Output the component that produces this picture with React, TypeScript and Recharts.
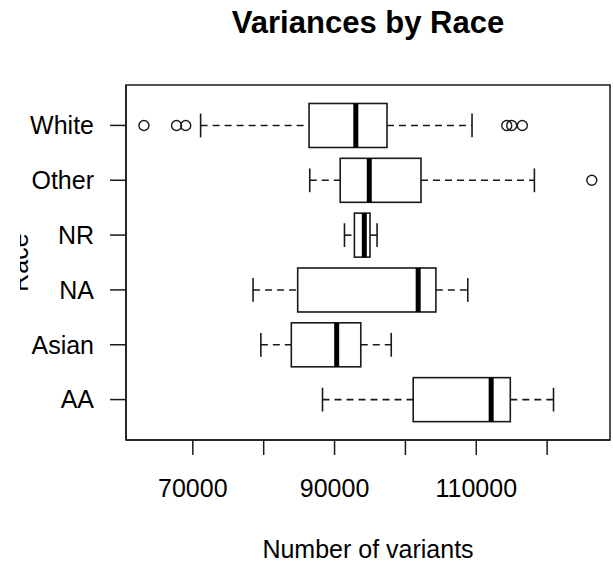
import * as R from 'recharts';
import { BarChart, Bar, XAxis, YAxis } from 'recharts';

// one row per race, top to bottom as in the picture
const races = ['White', 'Other', 'NR', 'NA', 'Asian', 'AA'];
const lowWhisker = [71100, 86500, 91400, 78500, 79600, 88300];
const lowerQuartile = [86400, 90800, 92800, 84800, 83900, 101100];
const medians = [93000, 94900, 94200, 101800, 90300, 112100];
const upperQuartile = [97400, 102200, 95000, 104300, 93700, 114800];
const highWhisker = [109400, 118200, 96000, 108800, 98000, 120900];
const outliers = [
  [63100, 67700, 69000, 114300, 115000, 116500],
  [126300],
  [],
  [],
  [],
  [],
];

const xDomain = [60570, 128870];
const xTicks = [70000, 80000, 90000, 100000, 110000, 120000];
const xTickLabels = ['70000', '', '90000', '', '110000', ''];

const data = races.map((race, i) => ({
  race,
  lo: lowWhisker[i],
  q1: lowerQuartile[i],
  med: medians[i],
  q3: upperQuartile[i],
  hi: highWhisker[i],
  out: outliers[i],
  range: [lowWhisker[i], highWhisker[i]],
}));

const INK = '#1a1a1a';
const FONT = '"Liberation Sans", Arial, sans-serif';

// bar gets the whisker span from the x scale; the rest is placed on the same linear scale
function BoxShape(props: any) {
  const { x, y, width, height, payload } = props;
  if (!payload) return null;
  const { lo, q1, med, q3, hi, out } = payload;
  const k = width / (hi - lo);
  const px = (v: number) => x + (v - lo) * k;
  const cy = y + height / 2;
  const cap = height * 0.27;
  return (
    <g>
      <line x1={px(lo)} x2={px(q1)} y1={cy} y2={cy} stroke={INK} strokeWidth={1.6} strokeDasharray="7 5" />
      <line x1={px(q3)} x2={px(hi)} y1={cy} y2={cy} stroke={INK} strokeWidth={1.6} strokeDasharray="7 5" />
      <line x1={px(lo)} x2={px(lo)} y1={cy - cap} y2={cy + cap} stroke={INK} strokeWidth={1.6} />
      <line x1={px(hi)} x2={px(hi)} y1={cy - cap} y2={cy + cap} stroke={INK} strokeWidth={1.6} />
      <rect x={px(q1)} y={y} width={px(q3) - px(q1)} height={height} fill="#fff" stroke={INK} strokeWidth={1.6} />
      <line x1={px(med)} x2={px(med)} y1={y} y2={y + height} stroke="#000" strokeWidth={5} />
      {out.map((v: number, j: number) => (
        <circle key={j} cx={px(v)} cy={cy} r={5} fill="none" stroke={INK} strokeWidth={1.4} />
      ))}
    </g>
  );
}

// the reference has this label cut off at the left edge
function RaceLabel(props: any) {
  const vb = props.viewBox || { x: 0, y: 85, width: 126, height: 355 };
  const cx = vb.x + 28;
  const cy = vb.y + vb.height / 2;
  return (
    <g clipPath="url(#raceClip)">
      <defs>
        <clipPath id="raceClip">
          <rect x={vb.x + 20} y={vb.y} width={30} height={vb.height} />
        </clipPath>
      </defs>
      <text
        x={cx}
        y={cy}
        transform={`rotate(-90 ${cx} ${cy})`}
        textAnchor="middle"
        fontSize={25}
        fill="#000"
      >
        Race
      </text>
    </g>
  );
}

// box round the plot area, like R's frame
function Frame() {
  const usePlotArea = (R as any).usePlotArea;
  const area = usePlotArea ? usePlotArea() : null;
  if (!area) return null;
  return (
    <rect
      x={area.x}
      y={area.y}
      width={area.width}
      height={area.height}
      fill="none"
      stroke={INK}
      strokeWidth={1.5}
    />
  );
}

export default function App() {
  return (
    <div
      style={{
        position: 'absolute',
        left: 0,
        top: 0,
        width: 613,
        height: 562,
        background: '#fff',
        fontFamily: FONT,
      }}
    >
      <div
        style={{
          position: 'absolute',
          left: 126,
          width: 484,
          top: 7,
          fontSize: 31,
          lineHeight: '31px',
          fontWeight: 'bold',
          textAlign: 'center',
          color: '#000',
        }}
      >
        Variances by Race
      </div>
      <BarChart
        width={613}
        height={562}
        data={data}
        layout="vertical"
        margin={{ top: 85, right: 3, bottom: 0, left: 0 }}
        barCategoryGap="10%"
      >
        <XAxis
          type="number"
          domain={xDomain}
          ticks={xTicks}
          interval={0}
          tickFormatter={(_v: number, i: number) => xTickLabels[i]}
          height={122}
          tickSize={15}
          tickMargin={24}
          tick={{ fontSize: 25, fill: '#000' }}
          tickLine={{ stroke: INK, strokeWidth: 1.5 }}
          axisLine={{ stroke: INK, strokeWidth: 1.5 }}
          label={{ value: 'Number of variants', position: 'insideBottom', offset: 4, fontSize: 25, fill: '#000' }}
        />
        <YAxis
          type="category"
          dataKey="race"
          width={126}
          interval={0}
          padding={{ top: 13, bottom: 13 }}
          tickSize={16}
          tickMargin={16}
          tick={{ fontSize: 25, fill: '#000' }}
          tickLine={{ stroke: INK, strokeWidth: 1.5 }}
          axisLine={{ stroke: INK, strokeWidth: 1.5 }}
          label={<RaceLabel />}
        />
        <Bar dataKey="range" shape={BoxShape} isAnimationActive={false} />
        <Frame />
      </BarChart>
    </div>
  );
}
